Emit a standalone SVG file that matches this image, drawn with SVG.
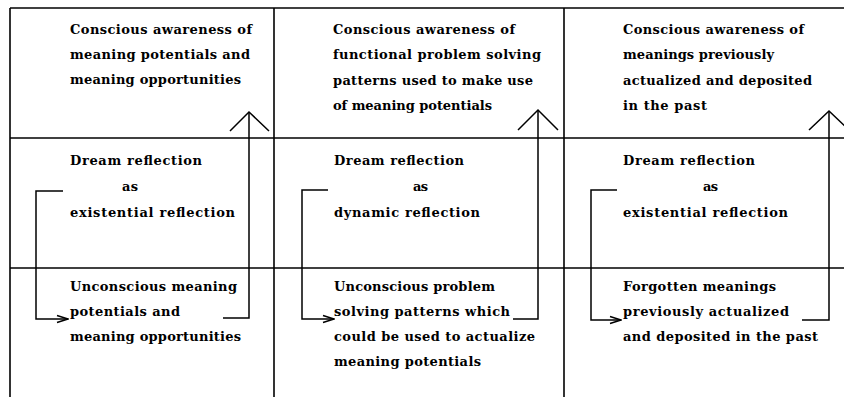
<svg xmlns="http://www.w3.org/2000/svg" width="844" height="397" viewBox="0 0 844 397">
<style>
.grid{stroke:#000;stroke-width:1.6;fill:none}
.conn{stroke:#000;stroke-width:1.5;fill:none}
text{font-family:"DejaVu Serif","Liberation Serif",serif;font-size:13px;font-weight:bold;fill:#000}
</style>
<defs>
<marker id="tip" viewBox="0 0 14 10" refX="13" refY="5" markerWidth="14" markerHeight="10" markerUnits="userSpaceOnUse" orient="auto">
<path d="M2,1.5 L13,5 L2,8.5" fill="none" stroke="#000" stroke-width="1.5"/>
</marker>
</defs>
<rect width="844" height="397" fill="#fff"/>
<g id="grid" class="grid">
<line x1="10" y1="8" x2="844" y2="8"/>
<line x1="10" y1="8" x2="10" y2="397"/>
<line x1="274" y1="8" x2="274" y2="397"/>
<line x1="564" y1="8" x2="564" y2="397"/>
<line x1="10" y1="138" x2="844" y2="138"/>
<line x1="10" y1="268" x2="844" y2="268"/>
</g>
<g id="c1-top">
<text x="70" y="34" textLength="182">Conscious awareness of</text>
<text x="70" y="59" textLength="180">meaning potentials and</text>
<text x="70" y="84" textLength="171">meaning opportunities</text>
</g>
<g id="c2-top">
<text x="333" y="34" textLength="182">Conscious awareness of</text>
<text x="333" y="59" textLength="208">functional problem solving</text>
<text x="333" y="85" textLength="200">patterns used to make use</text>
<text x="333" y="110" textLength="159">of meaning potentials</text>
</g>
<g id="c3-top">
<text x="623" y="34" textLength="181">Conscious awareness of</text>
<text x="623" y="59" textLength="151">meanings previously</text>
<text x="623" y="85" textLength="189">actualized and deposited</text>
<text x="623" y="110" textLength="84">in the past</text>
</g>
<g id="c1-mid">
<text x="70" y="165" textLength="132">Dream reflection</text>
<text x="122" y="191" textLength="16">as</text>
<text x="70" y="217" textLength="165">existential reflection</text>
</g>
<g id="c2-mid">
<text x="334" y="165" textLength="130">Dream reflection</text>
<text x="413" y="191" textLength="15">as</text>
<text x="334" y="217" textLength="146">dynamic reflection</text>
</g>
<g id="c3-mid">
<text x="623" y="165" textLength="132">Dream reflection</text>
<text x="703" y="191" textLength="15">as</text>
<text x="623" y="217" textLength="165">existential reflection</text>
</g>
<g id="c1-bot">
<text x="70" y="291" textLength="167">Unconscious meaning</text>
<text x="70" y="316" textLength="110">potentials and</text>
<text x="70" y="341" textLength="171">meaning opportunities</text>
</g>
<g id="c2-bot">
<text x="334" y="291" textLength="161">Unconscious problem</text>
<text x="334" y="316" textLength="176">solving patterns which</text>
<text x="334" y="341" textLength="201">could be used to actualize</text>
<text x="334" y="366" textLength="147">meaning potentials</text>
</g>
<g id="c3-bot">
<text x="623" y="291" textLength="153">Forgotten meanings</text>
<text x="623" y="316" textLength="166">previously actualized</text>
<text x="623" y="341" textLength="195">and deposited in the past</text>
</g>
<g id="connectors" class="conn">
<polyline points="63,191 36,191 36,319 68,319" marker-end="url(#tip)"/>
<polyline points="223,318 249,318 249,112"/>
<polyline points="230,131 249,112 269,131"/>
<polyline points="328,190 302,190 302,319 334,319" marker-end="url(#tip)"/>
<polyline points="513,319 538,319 538,110"/>
<polyline points="518,130 538,110 558,130"/>
<polyline points="617,190 591,190 591,320 621,320" marker-end="url(#tip)"/>
<polyline points="802,320 829,320 829,111"/>
<polyline points="809,130 829,111 849,130"/>
</g>
</svg>
